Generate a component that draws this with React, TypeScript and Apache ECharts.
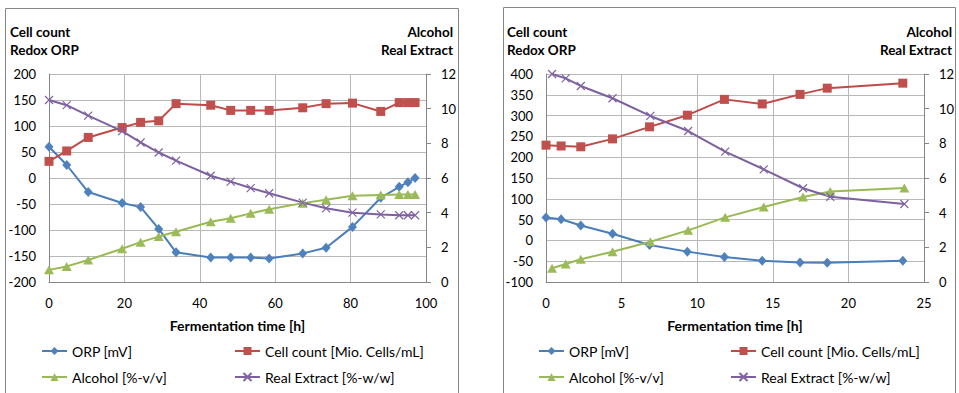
import React, { useEffect, useRef } from "react";
import * as echarts from "echarts";

// ---- Data: left chart (0-100 h) ----
const timeL: number[] = [0, 4.7, 10.4, 19.4, 24.3, 29.1, 33.7, 42.9, 48.2, 53.5, 58.4, 67.3, 73.5, 80.5, 88.0, 92.9, 95.2, 97.1];
const orpL: number[] = [60, 25, -27, -48, -56, -98, -143, -153, -153, -153, -155, -145, -134, -94, -38, -17, -8, 0];
const cellL: number[] = [32, 52, 78, 97, 107, 110, 143, 140, 130, 130, 130, 135, 143, 144, 128, 145, 145, 145];
const alcoholL: number[] = [0.7, 0.9, 1.27, 1.92, 2.3, 2.62, 2.9, 3.48, 3.68, 3.96, 4.2, 4.55, 4.75, 4.97, 5.02, 5.05, 5.05, 5.05];
const extractL: number[] = [10.5, 10.2, 9.6, 8.7, 8.05, 7.47, 7.0, 6.13, 5.79, 5.42, 5.12, 4.58, 4.25, 4.0, 3.9, 3.85, 3.85, 3.85];

// ---- Data: right chart (0-25 h) ----
const timeR: number[] = [0, 1.0, 2.3, 4.4, 6.85, 9.35, 11.8, 14.3, 16.8, 18.6, 23.6];
const orpR: number[] = [55, 51, 36, 16, -11, -27, -40, -49, -53, -54, -49];
const cellR: number[] = [229, 227, 225, 244, 273, 301, 339, 328, 351, 366, 378];
const timeR2: number[] = [0.4, 1.3, 2.3, 4.4, 6.9, 9.4, 11.85, 14.4, 17.0, 18.8, 23.7];
const alcoholR: number[] = [0.79, 1.04, 1.31, 1.75, 2.32, 2.98, 3.73, 4.33, 4.9, 5.22, 5.42];
const extractR: number[] = [12.0, 11.75, 11.31, 10.6, 9.58, 8.71, 7.52, 6.5, 5.41, 4.92, 4.5];

// ---- Axis ticks / labels ----
const leftAxisL = { min: -200, max: 200, interval: 50 };
const leftAxisR = { min: -100, max: 400, interval: 50 };
const rightAxis = { min: 0, max: 12, interval: 2 };
const xAxisL = { min: 0, max: 100, interval: 20 };
const xAxisR = { min: 0, max: 25, interval: 5 };

const NAMES = {
  orp: "ORP [mV]",
  cell: "Cell count [Mio. Cells/mL]",
  alc: "Alcohol [%-v/v]",
  ext: "Real Extract [%-w/w]",
};
const xName = "Fermentation time [h]";

const FONT = "Lato, 'Open Sans', sans-serif";
const BLUE = "#4A7EBB", BLUE_M = "#4F81BD";
const RED = "#BE4B48", RED_M = "#C0504D";
const GREEN = "#98B954", GREEN_M = "#9BBB59";
const PURPLE = "#7D60A0", PURPLE_M = "#8064A2";
const GRID_C = "#b8b8b8";
const AXIS_C = "#868686";

const zip = (xs: number[], ys: number[]) => xs.map((x, i) => [x, ys[i]]);

function makeSeries(grid: number, t1: number[], orp: number[], cell: number[], t2: number[], alc: number[], ext: number[]) {
  const yl = grid * 2;
  const yr = grid * 2 + 1;
  return [
    {
      name: NAMES.orp, type: "line", xAxisIndex: grid, yAxisIndex: yl,
      data: zip(t1, orp), symbol: "diamond", symbolSize: [9, 10],
      lineStyle: { color: BLUE, width: 2 }, itemStyle: { color: BLUE_M, borderWidth: 0 },
    },
    {
      name: NAMES.cell, type: "line", xAxisIndex: grid, yAxisIndex: yl,
      data: zip(t1, cell), symbol: "rect", symbolSize: 9,
      lineStyle: { color: RED, width: 2 }, itemStyle: { color: RED_M, borderWidth: 0 },
    },
    {
      name: NAMES.alc, type: "line", xAxisIndex: grid, yAxisIndex: yr,
      data: zip(t2, alc), symbol: "triangle", symbolSize: [10, 9],
      lineStyle: { color: GREEN, width: 2 }, itemStyle: { color: GREEN_M, borderWidth: 0 },
    },
    {
      name: NAMES.ext, type: "line", xAxisIndex: grid, yAxisIndex: yr,
      data: zip(t2, ext), symbol: "path://M0,0L10,10M10,0L0,10", symbolSize: 8,
      lineStyle: { color: PURPLE, width: 2 },
      itemStyle: { color: PURPLE_M, borderColor: PURPLE_M, borderWidth: 1.2 },
    },
  ];
}

function xAxisCfg(grid: number, ax: { min: number; max: number; interval: number }) {
  return {
    type: "value", gridIndex: grid, min: ax.min, max: ax.max, interval: ax.interval,
    axisLine: { show: true, onZero: false, lineStyle: { color: AXIS_C, width: 1 } },
    axisTick: { show: false },
    axisLabel: { margin: 14, color: "#000", fontSize: 13, fontFamily: FONT },
    splitLine: { show: true, lineStyle: { color: GRID_C, width: 1 } },
    name: xName, nameLocation: "middle", nameGap: 36,
    nameTextStyle: { color: "#000", fontSize: 14, fontWeight: "bold", fontFamily: FONT },
  };
}

function yLeftCfg(grid: number, ax: { min: number; max: number; interval: number }) {
  return {
    type: "value", gridIndex: grid, position: "left", min: ax.min, max: ax.max, interval: ax.interval,
    axisLine: { show: true, onZero: false, lineStyle: { color: AXIS_C, width: 1 } },
    axisTick: { show: false },
    axisLabel: { margin: 13, color: "#000", fontSize: 13, fontFamily: FONT },
    splitLine: { show: true, lineStyle: { color: GRID_C, width: 1 } },
  };
}

function yRightCfg(grid: number) {
  return {
    type: "value", gridIndex: grid, position: "right", min: rightAxis.min, max: rightAxis.max, interval: rightAxis.interval,
    axisLine: { show: true, onZero: false, lineStyle: { color: AXIS_C, width: 1 } },
    axisTick: { show: true, inside: false, length: 5, lineStyle: { color: AXIS_C } },
    axisLabel: { margin: 15, color: "#000", fontSize: 13, fontFamily: FONT },
    splitLine: { show: false },
  };
}

function legendCfg(left: number, data: string[]) {
  return {
    orient: "vertical", left, top: 343, width: 220, height: 48, padding: 0,
    itemWidth: 25, itemHeight: 10, itemGap: 10,
    data, selectedMode: false,
    textStyle: { color: "#000", fontSize: 14, fontFamily: FONT, lineHeight: 16 },
  };
}

function titleTexts(leftX: number, rightX: number) {
  const base = { font: `bold 13.5px ${FONT}`, fill: "#000", textVerticalAlign: "middle", verticalAlign: "middle" };
  return [
    { type: "text", style: { ...base, text: "Cell count", x: leftX, y: 32, textAlign: "left", align: "left" } },
    { type: "text", style: { ...base, text: "Redox ORP", x: leftX, y: 50, textAlign: "left", align: "left" } },
    { type: "text", style: { ...base, text: "Alcohol", x: rightX, y: 32, textAlign: "right", align: "right" } },
    { type: "text", style: { ...base, text: "Real Extract", x: rightX, y: 50, textAlign: "right", align: "right" } },
  ];
}

export default function App() {
  const ref = useRef<HTMLDivElement | null>(null);

  useEffect(() => {
    if (!ref.current) return;
    const chart = echarts.init(ref.current, undefined, { renderer: "svg" });
    const option: any = {
      animation: false,
      backgroundColor: "#ffffff",
      grid: [
        { left: 49, top: 74, width: 377, height: 208, containLabel: false },
        { left: 546, top: 74, width: 378, height: 208, containLabel: false },
      ],
      xAxis: [xAxisCfg(0, xAxisL), xAxisCfg(1, xAxisR)],
      yAxis: [yLeftCfg(0, leftAxisL), yRightCfg(0), yLeftCfg(1, leftAxisR), yRightCfg(1)],
      legend: [
        legendCfg(41, [NAMES.orp, NAMES.alc]),
        legendCfg(234, [NAMES.cell, NAMES.ext]),
        legendCfg(538, [NAMES.orp, NAMES.alc]),
        legendCfg(730, [NAMES.cell, NAMES.ext]),
      ],
      graphic: [
        { type: "rect", shape: { x: 5.5, y: 8.5, width: 453, height: 390 }, style: { fill: "none", stroke: AXIS_C, lineWidth: 1 }, silent: true },
        { type: "rect", shape: { x: 503.5, y: 7.5, width: 452, height: 390 }, style: { fill: "none", stroke: AXIS_C, lineWidth: 1 }, silent: true },
        ...titleTexts(10, 453),
        ...titleTexts(507, 952),
      ],
      series: [
        ...makeSeries(0, timeL, orpL, cellL, timeL, alcoholL, extractL),
        ...makeSeries(1, timeR, orpR, cellR, timeR2, alcoholR, extractR),
      ],
    };
    chart.setOption(option);
    return () => chart.dispose();
  }, []);

  return (
    <div
      ref={ref}
      style={{ position: "absolute", left: 0, top: 0, width: 959, height: 393, background: "#fff" }}
    />
  );
}
